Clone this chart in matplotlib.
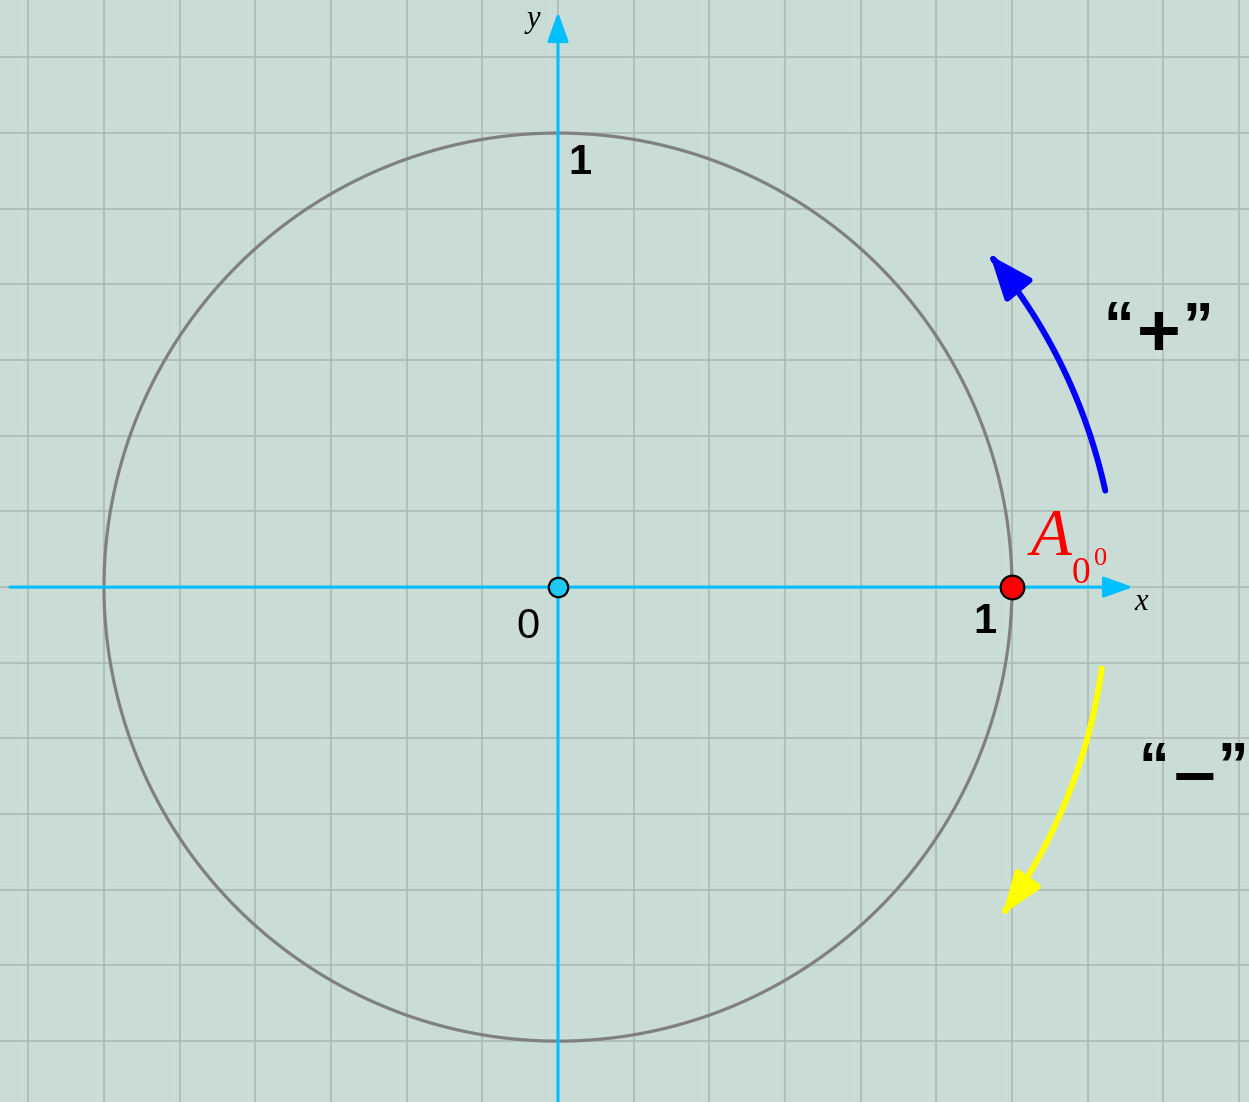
import numpy as np
import matplotlib
matplotlib.use("Agg")
import matplotlib.pyplot as plt
from matplotlib.path import Path
from matplotlib.patches import FancyArrowPatch

# ---- data ----
circle_radius = 1.0
grid_step = 1.0 / 6
x_limits = [-1.229, 1.522]
y_limits = [-1.134, 1.293]
axis_x_span = [-1.207, 1.2665]
axis_y_span = [-1.134, 1.2665]
points_x = [0.0, 1.0]
points_y = [0.0, 0.0]
point_colors = ["#1ec8f5", "#ff0000"]
point_sizes = [14, 17]
# rotation arrows: (start radius, end radius, start angle, end angle)
plus_arc = [1.224, 1.200, 10.0, 37.5]
minus_arc = [1.211, 1.216, -8.5, -36.4]
tick_labels = [("1", 0.048, 0.934, "bold"), ("0", -0.066, -0.088, "normal"), ("1", 0.940, -0.077, "bold")]

BG = "#c9dcd6"
GRID = "#aeb9b5"
AXIS = "#00bfff"

fig = plt.figure(figsize=(12.49, 11.02), dpi=100, facecolor=BG)
ax = fig.add_axes([0, 0, 1, 1])
ax.set_facecolor(BG)
ax.set_xlim(*x_limits)
ax.set_ylim(*y_limits)
ax.axis("off")

# grid
for k in range(-8, 11):
    v = k * grid_step
    ax.axvline(v - 0.015, color="#cfe0da", lw=1.0, zorder=0)
    ax.axvline(v, color=GRID, lw=1.2, zorder=0.5)
    ax.axhline(v + 0.015, color="#cfe0da", lw=1.0, zorder=0)
    ax.axhline(v, color=GRID, lw=1.2, zorder=0.5)

# circle
t = np.linspace(0, 2 * np.pi, 600)
ax.plot(circle_radius * np.cos(t), circle_radius * np.sin(t), color="#808080", lw=2.3, zorder=2)

# axes with arrows
ax.annotate("", xy=(axis_x_span[1], 0), xytext=(axis_x_span[0], 0),
            arrowprops=dict(arrowstyle="-|>,head_length=1.0,head_width=0.36", color=AXIS,
                            lw=2.2, mutation_scale=18, shrinkA=0, shrinkB=0), zorder=3)
ax.annotate("", xy=(0, axis_y_span[1]), xytext=(0, axis_y_span[0]),
            arrowprops=dict(arrowstyle="-|>,head_length=1.0,head_width=0.36", color=AXIS,
                            lw=2.2, mutation_scale=18, shrinkA=0, shrinkB=0), zorder=3)

# points
for px, py, c, s in zip(points_x, points_y, point_colors, point_sizes):
    ax.plot(px, py, "o", ms=s, mfc=c, mec="black", mew=1.6, zorder=5)

# curved arrows
def arc_arrow(params, color, hl, hw):
    r0, r1, a0, a1 = params
    a = np.radians(np.linspace(a0, a1, 60))
    r = np.linspace(r0, r1, 60)
    verts = np.column_stack([r * np.cos(a), r * np.sin(a)])
    path = Path(verts)
    arr = FancyArrowPatch(path=path, arrowstyle=f"-|>,head_length={hl},head_width={hw}",
                          color=color, lw=4.3, mutation_scale=20, zorder=4)
    ax.add_patch(arr)

arc_arrow(plus_arc, "#0000ff", 1.3, 0.52)
arc_arrow(minus_arc, "#ffff00", 1.25, 0.45)

# labels
for txt, lx, ly, w in tick_labels:
    ax.text(lx, ly, txt, fontsize=30, fontweight=w, family="Liberation Sans",
            ha="center", va="center", zorder=6)
ax.text(1.284, -0.035, "x", fontsize=22, style="italic", family="Liberation Serif",
        ha="center", va="center", zorder=6)
ax.text(-0.055, 1.249, "y", fontsize=22, style="italic", family="Liberation Serif",
        ha="center", va="center", zorder=6)

# A_{0^0}
red = "#ff0000"
ax.text(1.040, 0.070, "A", fontsize=48, style="italic", family="Liberation Serif",
        color=red, ha="left", va="baseline", zorder=6)
ax.text(1.131, 0.0085, "0", fontsize=27, family="Liberation Serif",
        color=red, ha="left", va="baseline", zorder=6)
ax.text(1.180, 0.049, "0", fontsize=19, family="Liberation Serif",
        color=red, ha="left", va="baseline", zorder=6)

# sign labels
def sign_label(cx, cy, sign):
    ax.text(cx - 0.088, cy + 0.017, "\u201c", fontsize=44, fontweight="bold",
            family="Liberation Sans", ha="center", va="center", zorder=6)
    ax.text(cx, cy, sign, fontsize=54, fontweight="bold",
            family="Liberation Sans", ha="center", va="center", zorder=6)
    ax.text(cx + 0.086, cy + 0.017, "\u201d", fontsize=44, fontweight="bold",
            family="Liberation Sans", ha="center", va="center", zorder=6)

sign_label(1.323, 0.552, "+")
sign_label(1.401, -0.418, "\u2013")

fig.savefig("out.png", dpi=100, facecolor=BG)
